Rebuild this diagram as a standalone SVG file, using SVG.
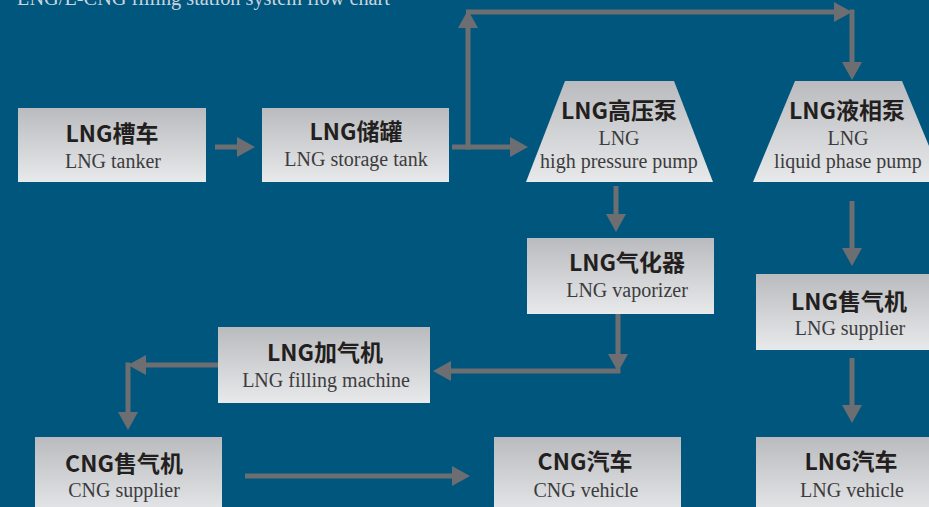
<svg xmlns="http://www.w3.org/2000/svg" width="929" height="507" viewBox="0 0 929 507">
<defs>
<linearGradient id="g" x1="0" y1="0" x2="0" y2="1">
<stop offset="0" stop-color="#babbbe"/>
<stop offset="1" stop-color="#e8e9eb"/>
</linearGradient>
<marker id="ah" markerUnits="userSpaceOnUse" viewBox="0 0 18 20" markerWidth="18" markerHeight="20" refX="2" refY="10" orient="auto">
<path d="M0,0 L18,10 L0,20 z" fill="#6d6e71"/>
</marker>
<style>
.box{fill:url(#g);}
.t{font-family:"Noto Sans CJK SC","DejaVu Sans",sans-serif;font-weight:700;font-size:23px;fill:#231f20;text-anchor:middle;}
.s{font-family:"Liberation Serif","Times New Roman",serif;font-size:20px;fill:#3c3c3e;text-anchor:middle;}
.c{fill:none;stroke:#6d6e71;stroke-width:5;}
.a{marker-end:url(#ah);}
</style>
</defs>
<rect x="0" y="0" width="929" height="507" fill="#01567e"/>
<text x="17" y="5" font-family="Liberation Serif, serif" font-size="20" fill="#c9d5df" textLength="373" lengthAdjust="spacingAndGlyphs">LNG/L-CNG filling station system flow chart</text>

<g id="connectors">
<path class="c a" d="M215,147 H239"/>
<path class="c a" d="M452,147 H512"/>
<path class="c a" d="M468,149.5 V26"/>
<path class="c a" d="M466,12 H836"/>
<path class="c a" d="M852,9.5 V64"/>
<path class="c a" d="M616,186 V216"/>
<path class="c a" d="M618,314 V356"/>
<path class="c a" d="M620.5,371 H449"/>
<path class="c a" d="M218,365 H144"/>
<path class="c a" d="M128,362.5 V414"/>
<path class="c a" d="M245,476 H454"/>
<path class="c a" d="M852,201 V250"/>
<path class="c a" d="M852,358 V407"/>
</g>

<g id="lng-tanker">
<rect class="box" x="18" y="108" width="188" height="74"/>
<text class="t" x="112" y="142">LNG槽车</text>
<text class="s" x="113" y="168">LNG tanker</text>
</g>

<g id="lng-storage-tank">
<rect class="box" x="262" y="108" width="187" height="74"/>
<text class="t" x="356" y="140">LNG储罐</text>
<text class="s" x="356" y="166">LNG storage tank</text>
</g>

<g id="lng-high-pressure-pump">
<polygon class="box" points="565,81 674,81 713,182 526,182"/>
<text class="t" x="619" y="119">LNG高压泵</text>
<text class="s" x="619" y="145">LNG</text>
<text class="s" x="619" y="168">high pressure pump</text>
</g>

<g id="lng-liquid-phase-pump">
<polygon class="box" points="795,81 902,81 944,182 753,182"/>
<text class="t" x="847" y="119">LNG液相泵</text>
<text class="s" x="848" y="145">LNG</text>
<text class="s" x="848" y="168">liquid phase pump</text>
</g>

<g id="lng-vaporizer">
<rect class="box" x="527" y="238" width="187" height="76"/>
<text class="t" x="627" y="271">LNG气化器</text>
<text class="s" x="627" y="297">LNG vaporizer</text>
</g>

<g id="lng-supplier">
<rect class="box" x="756" y="274" width="190" height="76"/>
<text class="t" x="849" y="310">LNG售气机</text>
<text class="s" x="850" y="335">LNG supplier</text>
</g>

<g id="lng-filling-machine">
<rect class="box" x="218" y="327" width="212" height="76"/>
<text class="t" x="325" y="361">LNG加气机</text>
<text class="s" x="326" y="387">LNG filling machine</text>
</g>

<g id="cng-supplier">
<rect class="box" x="35" y="437" width="187" height="80"/>
<text class="t" x="124" y="472">CNG售气机</text>
<text class="s" x="124" y="497">CNG supplier</text>
</g>

<g id="cng-vehicle">
<rect class="box" x="494" y="437" width="187" height="80"/>
<text class="t" x="585" y="470">CNG汽车</text>
<text class="s" x="586" y="497">CNG vehicle</text>
</g>

<g id="lng-vehicle">
<rect class="box" x="756" y="437" width="190" height="80"/>
<text class="t" x="851" y="470">LNG汽车</text>
<text class="s" x="852" y="497">LNG vehicle</text>
</g>
</svg>
